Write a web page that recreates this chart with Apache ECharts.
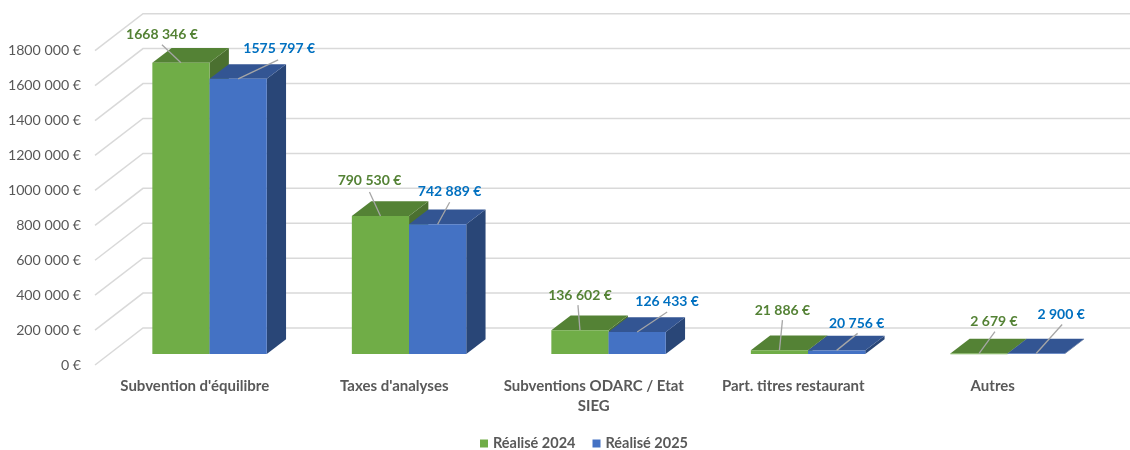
<!DOCTYPE html>
<html><head><meta charset="utf-8">
<style>html,body{margin:0;padding:0;background:#fff}#c{width:1130px;height:450px}</style>
<script src="https://cdn.jsdelivr.net/npm/echarts@6/dist/echarts.min.js"></script>
</head><body><div id="c"></div>
<script>
const categories = ["Subvention d'équilibre", "Taxes d'analyses", "Subventions ODARC / Etat\nSIEG", "Part. titres restaurant", "Autres"];
const realise2024 = [1668346, 790530, 136602, 21886, 2679];
const realise2025 = [1575797, 742889, 126433, 20756, 2900];
const ticks = [0, 200000, 400000, 600000, 800000, 1000000, 1200000, 1400000, 1600000, 1800000];

// layout (px): label centre and leader end, relative to the top-front centre of each bar
const labelOffsets2024 = [[-19, -28], [-11, -35], [0, -35], [3, -40], [15, -32]];
const leaderEnds2024 = [[-19, -18], [-11, -24], [-2, -25], [3, -30], [16, -22]];
const labelOffsets2025 = [[41, -30], [12, -32.5], [30, -30], [20, -27], [25, -39]];
const leaderEnds2025 = [[40, -19], [12, -22], [30, -20], [21, -17], [26, -29]];

const FONT = 'Lato, Carlito, sans-serif';
const DEPTH_X = 48, DEPTH_Y = 37;        // wall depth
const BAR_DX = 14.8, BAR_DY = 11;        // front plane of the bars vs. front of the floor
const BAR_DEPTH_X = 19.3, BAR_DEPTH_Y = 14.7;
const BAR_RATIO = 57.2 / 199.5;

function money(v) {
  const s = String(v);
  return (s.length > 3 ? s.slice(0, -3) + ' ' + s.slice(-3) : s) + ' €';
}

function gridItem(params, api) {
  const p = api.coord([0, api.value(1)]);
  const cs = params.coordSys;
  return {
    type: 'polyline',
    silent: true,
    shape: { points: [[cs.x, p[1]], [cs.x + DEPTH_X, p[1] - DEPTH_Y], [1130, p[1] - DEPTH_Y]] },
    style: { stroke: '#D9D9D9', lineWidth: 1.5, fill: null }
  };
}

function barSeries(name, values, side, colors, textColor, labelOffsets, leaderEnds) {
  return {
    name,
    type: 'custom',
    z: side < 0 ? 2 : 3,
    itemStyle: { color: colors.front },
    data: values.map((v, i) => [i, v]),
    encode: { x: 0, y: 1 },
    renderItem(params, api) {
      const i = api.value(0), v = api.value(1);
      const top = api.coord([i, v]), base = api.coord([i, 0]);
      const w = api.size([1, 0])[0] * BAR_RATIO;
      const x0 = top[0] + BAR_DX + (side < 0 ? -w : 0), x1 = x0 + w;
      const yt = top[1] - BAR_DY, yb = base[1] - BAR_DY;
      const dx = BAR_DEPTH_X, dy = BAR_DEPTH_Y;
      const cx = (x0 + x1) / 2;
      const lo = labelOffsets[i], le = leaderEnds[i];
      return {
        type: 'group',
        children: [
          { type: 'polygon', shape: { points: [[x1, yt], [x1 + dx, yt - dy], [x1 + dx, yb - dy], [x1, yb]] }, style: { fill: colors.side } },
          { type: 'polygon', shape: { points: [[x0, yt], [x0 + dx, yt - dy], [x1 + dx, yt - dy], [x1, yt]] }, style: { fill: colors.top } },
          { type: 'rect', shape: { x: x0, y: yt, width: w, height: Math.max(yb - yt, 0.6) }, style: { fill: colors.front } },
          { type: 'line', z2: 5, shape: { x1: cx, y1: yt, x2: cx + le[0], y2: yt + le[1] }, style: { stroke: '#A6A6A6', lineWidth: 1.3 } },
          { type: 'text', z2: 6, style: { text: money(v), x: cx + lo[0], y: yt + lo[1], align: 'center', verticalAlign: 'middle', fill: textColor, font: 'bold 14px ' + FONT } }
        ]
      };
    }
  };
}

const chart = echarts.init(document.getElementById('c'));
chart.setOption({
  animation: false,
  backgroundColor: '#fff',
  textStyle: { fontFamily: FONT },
  grid: { left: 95, right: 37.5, top: 50.7, bottom: 85, containLabel: false },
  xAxis: {
    type: 'category',
    data: categories,
    axisLine: { show: false },
    axisTick: { show: false },
    axisLabel: { interval: 0, color: '#595959', fontFamily: FONT, fontWeight: 'bold', fontSize: 15, lineHeight: 20, margin: 11.5 }
  },
  yAxis: {
    type: 'value',
    min: 0,
    max: 1800000,
    interval: 200000,
    axisLine: { show: false },
    axisTick: { show: false },
    splitLine: { show: false },
    axisLabel: { color: '#595959', fontFamily: FONT, fontSize: 14.2, margin: 14, padding: [3, 0, 0, 0], formatter: money }
  },
  legend: {
    show: true,
    data: ['Réalisé 2024', 'Réalisé 2025'],
    left: 480, top: 436,
    padding: 0,
    icon: 'rect',
    itemWidth: 8, itemHeight: 8, itemGap: 17,
    selectedMode: false,
    textStyle: { color: '#595959', fontFamily: FONT, fontWeight: 'bold', fontSize: 14.5 }
  },
  series: [
    { type: 'custom', name: 'grid', z: 1, silent: true, data: ticks.map(t => [0, t]), encode: { x: 0, y: 1 }, renderItem: gridItem },
    barSeries('Réalisé 2024', realise2024, -1, { front: '#70AD47', top: '#548235', side: '#4B7030' }, '#548235', labelOffsets2024, leaderEnds2024),
    barSeries('Réalisé 2025', realise2025, 1, { front: '#4472C4', top: '#335593', side: '#294677' }, '#0070C0', labelOffsets2025, leaderEnds2025)
  ]
});
</script></body></html>
